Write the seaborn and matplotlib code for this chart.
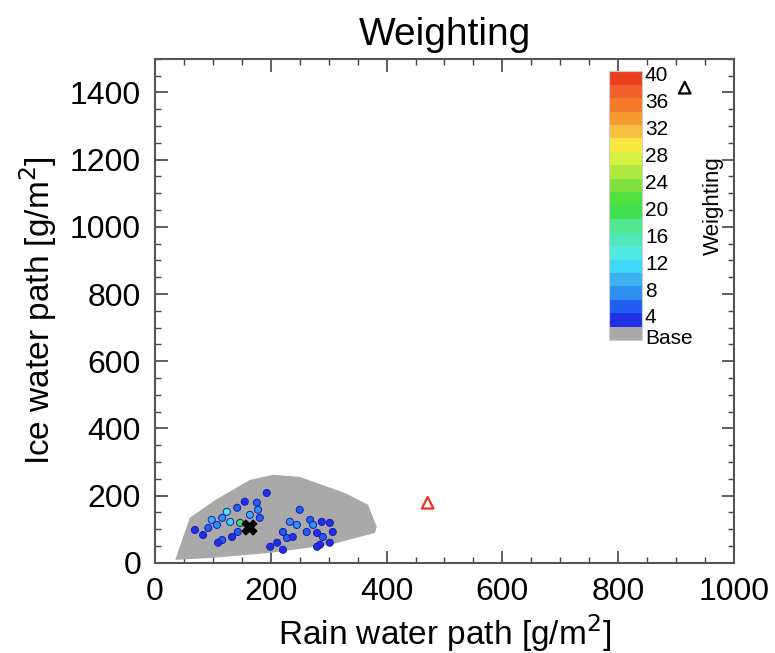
import matplotlib
matplotlib.use("Agg")
import matplotlib.pyplot as plt
import matplotlib.colors as mcolors
from matplotlib.ticker import MultipleLocator
import numpy as np
import pandas as pd
import seaborn as sns

# base region (gray hull) in rain / ice water path [g/m2]
hull_x = [35, 60, 104, 164, 204, 250, 328, 368, 383, 380, 302, 200, 100, 35]
hull_y = [9, 134, 187, 247, 262, 256, 208, 173, 107, 89, 54, 30, 15, 9]

# weighted cells (rain, ice, weighting)
cell_rain = [124, 130, 147, 92, 107, 116, 142, 155, 176, 178, 164, 143, 133, 116, 109, 83, 193, 181, 69, 98,
             250, 233, 245, 268, 273, 221, 228, 238, 211, 199, 221, 262, 280, 290, 288, 302, 307, 302, 285, 280]
cell_ice = [152, 122, 119, 104, 113, 134, 164, 182, 179, 158, 143, 92, 77, 68, 60, 83, 208, 134, 98, 128,
            158, 122, 113, 128, 113, 92, 74, 77, 60, 48, 39, 92, 89, 77, 122, 119, 92, 60, 54, 48]
cell_weight = [14, 12, 20, 6, 8, 8, 6, 4, 6, 8, 10, 6, 4, 6, 4, 4, 4, 6, 4, 10,
               6, 8, 8, 6, 8, 6, 6, 4, 4, 4, 4, 6, 4, 6, 4, 4, 4, 4, 4, 4]

# special points
best_rain, best_ice = [162], [107]
red_rain, red_ice = [471], [179]
black_rain, black_ice = [915], [1414]

levels = [4, 6, 8, 10, 12, 14, 16, 18, 20, 22, 24, 26, 28, 30, 32, 34, 36, 38, 40]
level_colors = ["#2030e8", "#2060f0", "#3090f0", "#40b0f0", "#40d8f8", "#50e8e0", "#50e8b8",
                "#50e890", "#40e050", "#50e040", "#80e040", "#b0e840", "#d8f040", "#f8e840",
                "#f8c040", "#f89a30", "#f47a2a", "#f0602a", "#e8401e"]
base_color = "#a9a9a9"
cbar_ticks = [40, 36, 32, 28, 24, 20, 16, 12, 8, 4]

sns.set_theme(style="white")
plt.rcParams["font.family"] = ["Liberation Sans", "DejaVu Sans"]
plt.rcParams["text.color"] = "black"
plt.rcParams["axes.labelcolor"] = "black"

fig = plt.figure(figsize=(7.75, 6.53), dpi=100)
ax = fig.add_axes([0.2, 0.138, 0.747, 0.772])

ax.fill(hull_x, hull_y, color=base_color, lw=0, zorder=1)

cells = pd.DataFrame({"rain": cell_rain, "ice": cell_ice, "w": cell_weight})
palette = dict(zip(levels, level_colors))
sns.scatterplot(data=cells, x="rain", y="ice", hue="w", palette=palette, legend=False,
                s=26, marker="o", edgecolor="#1a1ab0", linewidth=0.7, ax=ax, zorder=2)

ax.scatter(best_rain, best_ice, marker="X", s=110, color="black", zorder=4)
ax.scatter(red_rain, red_ice, marker="^", s=70, facecolor="none", edgecolor="#f03020", lw=1.6, zorder=4)
ax.scatter(black_rain, black_ice, marker="^", s=70, facecolor="none", edgecolor="black", lw=1.6, zorder=4)

ax.set_xlim(0, 1000)
ax.set_ylim(0, 1500)
ax.xaxis.set_major_locator(MultipleLocator(200))
ax.xaxis.set_minor_locator(MultipleLocator(50))
ax.yaxis.set_major_locator(MultipleLocator(200))
ax.yaxis.set_minor_locator(MultipleLocator(50))
ax.tick_params(which="both", direction="in", top=True, right=True, bottom=True, left=True,
               colors="#444444", labelcolor="black", labelsize=23)
ax.tick_params(which="major", length=9, width=1.2, pad=10)
ax.tick_params(which="minor", length=4, width=1.0)
for sp in ax.spines.values():
    sp.set_color("#555555")
    sp.set_linewidth(1.5)

ax.set_xlabel("Rain water path [g/m$^2$]", fontsize=24, labelpad=4)
ax.set_ylabel("Ice water path [g/m$^2$]", fontsize=24, labelpad=8)
ax.set_title("Weighting", fontsize=28, pad=10)

# colorbar: base cell + weighting levels
cax = fig.add_axes([0.786, 0.479, 0.0426, 0.412])
cmap = mcolors.ListedColormap([base_color] + level_colors)
bounds = np.arange(len(levels) + 2)
norm = mcolors.BoundaryNorm(bounds, cmap.N)
sm = plt.cm.ScalarMappable(cmap=cmap, norm=norm)
cb = fig.colorbar(sm, cax=cax, boundaries=bounds)
cb.ax.minorticks_off()
tick_pos = [0.3] + [levels.index(t) + 1.8 for t in cbar_ticks]
cb.set_ticks(tick_pos)
cb.set_ticklabels(["Base"] + [str(t) for t in cbar_ticks])
cb.ax.tick_params(which="both", length=0, labelsize=15, pad=2, labelcolor="black")
cb.outline.set_edgecolor("#cccccc")
cb.outline.set_linewidth(0.8)
fig.text(0.92, 0.685, "Weighting", rotation=90, fontsize=16, ha="center", va="center")

fig.savefig("out.png", dpi=100)
